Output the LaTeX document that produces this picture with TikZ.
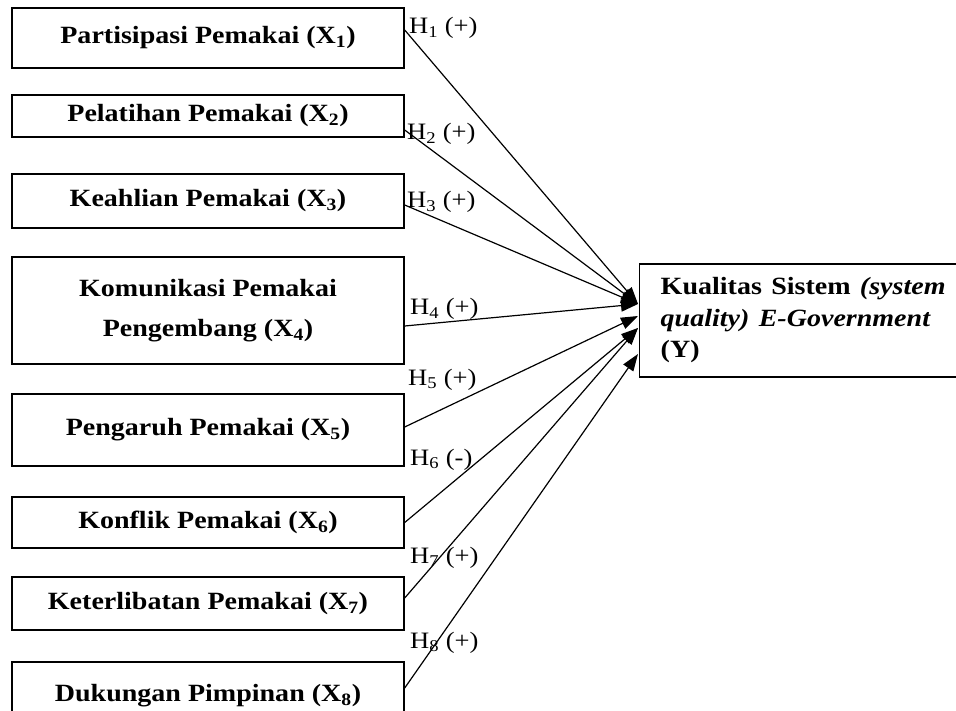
\documentclass[tikz,border=0pt]{standalone}
\usepackage{fontspec}
\setmainfont{Liberation Serif}
\usetikzlibrary{arrows.meta,calc}
\newcommand\sx[1]{\scalebox{1.13}[1]{#1}}
\begin{document}
\begin{tikzpicture}[x=1pt,y=-1pt,
  box/.style={draw, line width=1.4pt, minimum width=392pt, align=center, inner sep=0pt,
    font=\fontsize{24.8}{40}\selectfont\bfseries},
  ybox/.style={draw, line width=1.4pt, anchor=west, minimum height=113pt, inner xsep=21pt,
    inner ysep=0pt, text width=300pt, align=left, font=\fontsize{24.8}{31.5}\selectfont\bfseries},
  lab/.style={anchor=base west, inner sep=0pt, font=\fontsize{23.5}{26}\selectfont},
  arr/.style={line width=1.2pt, -{Triangle[length=17pt,width=12pt]}}]
\clip (0,0) rectangle (956,711);
\node[box, minimum height=60pt] (b1) at (208,38) {\sx{Partisipasi Pemakai (X\textsubscript{1})}};
\node[box, minimum height=42pt] (b2) at (208,116) {\sx{Pelatihan Pemakai (X\textsubscript{2})}};
\node[box, minimum height=54pt] (b3) at (208,201) {\sx{Keahlian Pemakai (X\textsubscript{3})}};
\node[box, minimum height=107pt] (b4) at (208,310.5) {\sx{Komunikasi Pemakai}\\\sx{Pengembang (X\textsubscript{4})}};
\node[box, minimum height=72pt] (b5) at (208,430) {\sx{Pengaruh Pemakai (X\textsubscript{5})}};
\node[box, minimum height=51pt] (b6) at (208,522.5) {\sx{Konflik Pemakai (X\textsubscript{6})}};
\node[box, minimum height=53pt] (b7) at (208,603.5) {\sx{Keterlibatan Pemakai (X\textsubscript{7})}};
\node[box, minimum height=76pt] (b8) at (208,700) {\raisebox{14pt}{\sx{Dukungan Pimpinan (X\textsubscript{8})}}};
\node[ybox] (y) at (639,320.5) {\sx{Kualitas Sistem \textit{(system}}\\\sx{\textit{quality) E-Government}}\\\sx{(Y)}};
\draw[arr] ($(b1.east)+(0,-8)$) -- ($(y.west)+(-1,-16.5)$);
\draw[arr] ($(b2.east)+(0,14)$) -- ($(y.west)+(-1,-16.5)$);
\draw[arr] ($(b3.east)+(0,4)$) -- ($(y.west)+(-1,-16.5)$);
\draw[arr] ($(b4.east)+(0,15.5)$) -- ($(y.west)+(-1,-16.5)$);
\draw[arr] ($(b5.east)+(0,-3)$) -- ($(y.west)+(-1,-4.5)$);
\draw[arr] ($(b6.east)+(0,0)$) -- ($(y.west)+(-1,7.5)$);
\draw[arr] ($(b7.east)+(0,-5.5)$) -- ($(y.west)+(-1,7.5)$);
\draw[arr] ($(b8.east)+(0,-12)$) -- ($(y.west)+(-1,33.5)$);
\node[lab] (h1) at (409,34) {\sx{H\textsubscript{1} (+)}};
\node[lab] (h2) at (407,140) {\sx{H\textsubscript{2} (+)}};
\node[lab] (h3) at (407,208) {\sx{H\textsubscript{3} (+)}};
\node[lab] (h4) at (410,315) {\sx{H\textsubscript{4} (+)}};
\node[lab] (h5) at (408,385) {\sx{H\textsubscript{5} (+)}};
\node[lab] (h6) at (410,465) {\sx{H\textsubscript{6} (-)}};
\node[lab] (h7) at (410,563) {\sx{H\textsubscript{7} (+)}};
\node[lab] (h8) at (410,648) {\sx{H\textsubscript{8} (+)}};
\end{tikzpicture}
\end{document}
